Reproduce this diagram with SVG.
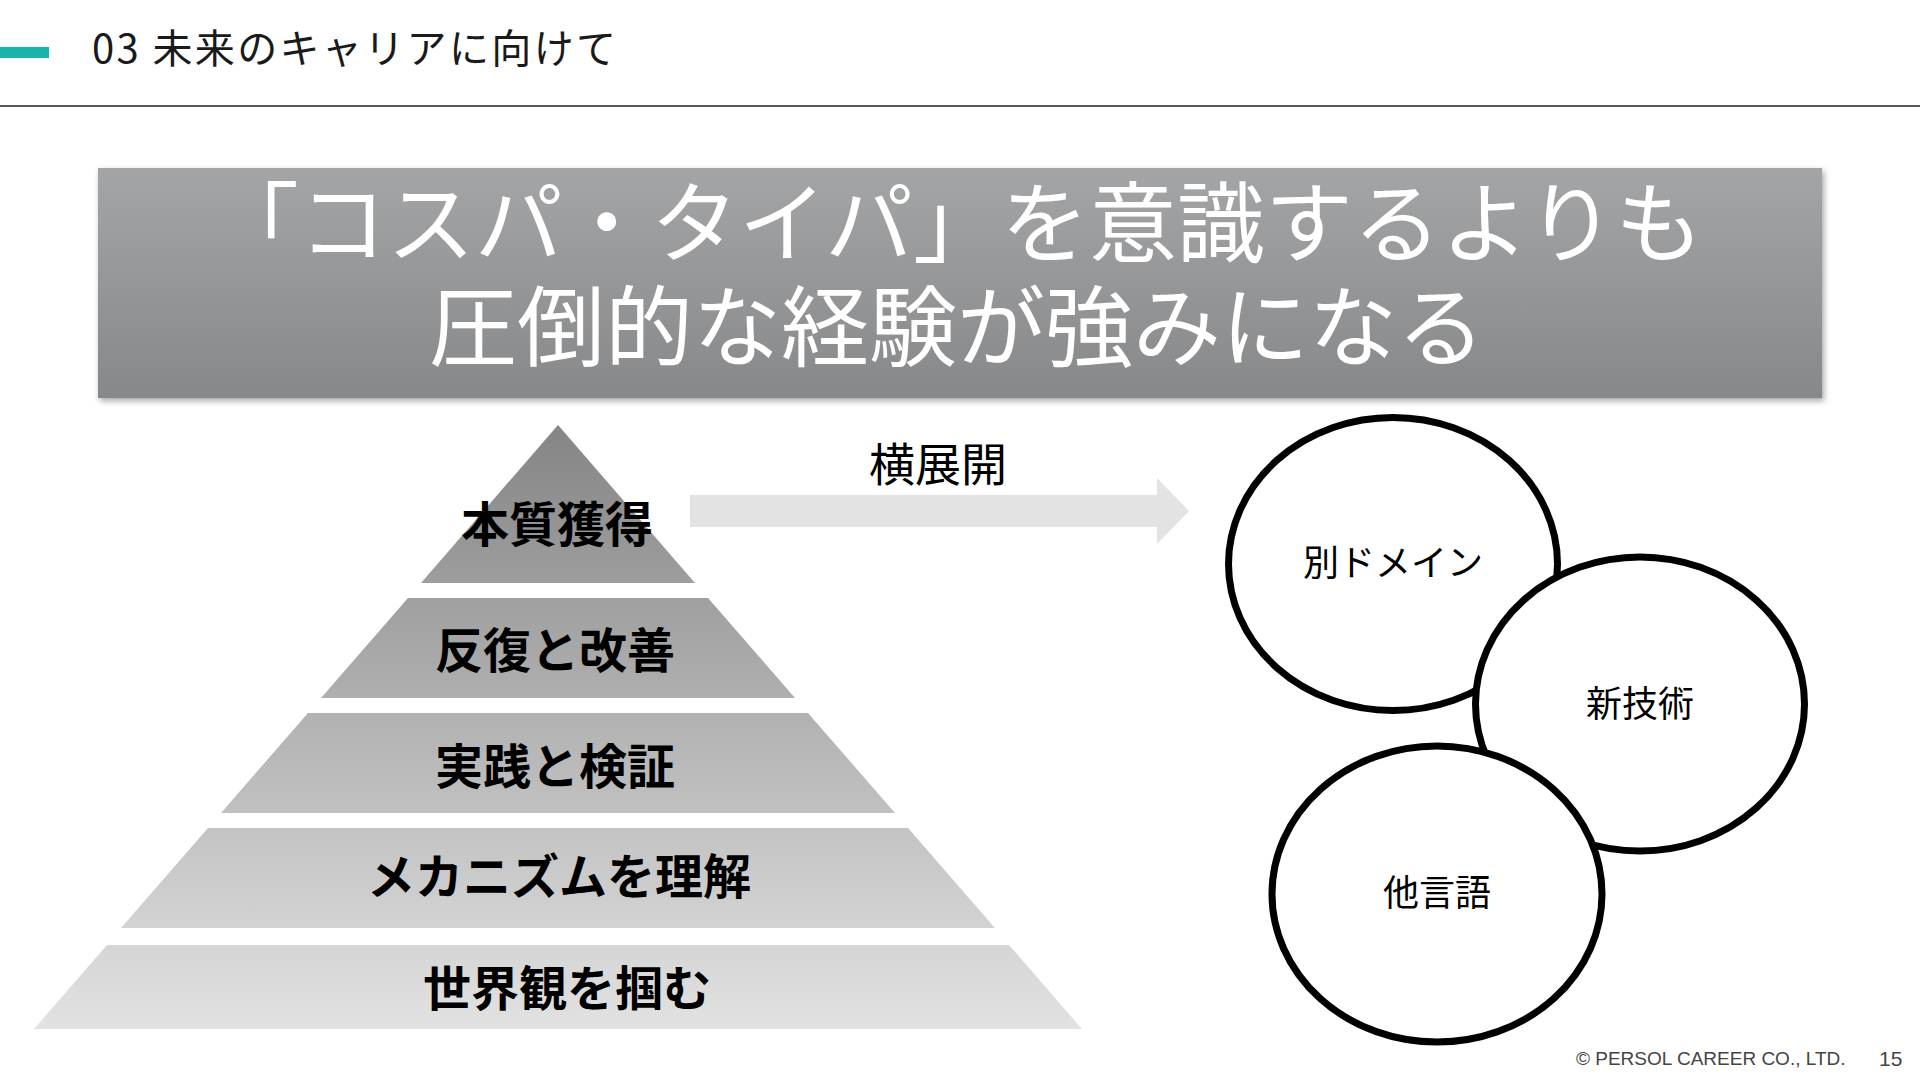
<svg xmlns="http://www.w3.org/2000/svg" width="1920" height="1080" viewBox="0 0 1920 1080">
  <style>
    .jp { font-family: "Noto Sans CJK JP", "Noto Sans", sans-serif; }
    .title { font-size: 40px; fill: #1a1a1a; }
    .banner-text { font-size: 88px; fill: #ffffff; text-anchor: middle; }
    .tier-label { font-size: 48px; font-weight: bold; fill: #000000; text-anchor: middle; }
    .bubble { fill: #ffffff; stroke: #000000; stroke-width: 7; }
    .bubble-label { font-size: 36px; fill: #000000; text-anchor: middle; }
    .footer { font-family: "Liberation Sans", Arial, sans-serif; fill: #444444; }
  </style>
  <defs>
    <linearGradient id="bannerGrad" x1="0" y1="0" x2="0" y2="1">
      <stop offset="0" stop-color="#a4a5a7"/>
      <stop offset="1" stop-color="#87888a"/>
    </linearGradient>
    <linearGradient id="pyrGrad" gradientUnits="userSpaceOnUse" x1="0" y1="425" x2="0" y2="1029">
      <stop offset="0" stop-color="#858585"/>
      <stop offset="1" stop-color="#e2e2e2"/>
    </linearGradient>
    <filter id="shadow" x="-5%" y="-10%" width="110%" height="125%">
      <feDropShadow dx="2" dy="3" stdDeviation="3" flood-color="#000000" flood-opacity="0.35"/>
    </filter>
  </defs>

  <rect width="1920" height="1080" fill="#ffffff"/>

  <!-- Header -->
  <g id="header">
    <rect x="0" y="47" width="49" height="11" fill="#17b3ac"/>
    <text class="jp title" x="92" y="63" textLength="524" lengthAdjust="spacing">03 未来のキャリアに向けて</text>
    <rect x="0" y="105" width="1920" height="2" fill="#595959"/>
  </g>

  <!-- Banner -->
  <g id="banner">
    <rect x="98" y="168" width="1724" height="230" fill="url(#bannerGrad)" filter="url(#shadow)"/>
    <text class="jp banner-text"><tspan x="957" y="255">「コスパ・タイパ」を意識するよりも</tspan><tspan x="957" y="359">圧倒的な経験が強みになる</tspan></text>
  </g>

  <!-- Pyramid -->
  <g id="tier-1">
    <polygon points="558,425 695,583 421,583" fill="url(#pyrGrad)"/>
    <text class="jp tier-label" x="557" y="542">本質獲得</text>
  </g>
  <g id="tier-2">
    <polygon points="408,598 708,598 795,698 321,698" fill="url(#pyrGrad)"/>
    <text class="jp tier-label" x="555" y="668">反復と改善</text>
  </g>
  <g id="tier-3">
    <polygon points="308,713 808,713 895,813 221,813" fill="url(#pyrGrad)"/>
    <text class="jp tier-label" x="555" y="784">実践と検証</text>
  </g>
  <g id="tier-4">
    <polygon points="208,828 908,828 995,928 121,928" fill="url(#pyrGrad)"/>
    <text class="jp tier-label" x="559" y="894">メカニズムを理解</text>
  </g>
  <g id="tier-5">
    <polygon points="107,945 1009,945 1082,1029 34,1029" fill="url(#pyrGrad)"/>
    <text class="jp tier-label" x="567" y="1006">世界観を掴む</text>
  </g>

  <!-- Connector: block arrow -->
  <g id="connectors">
    <polygon points="690,495 1157,495 1157,478 1189,511 1157,544 1157,527 690,527" fill="#e3e3e3"/>
    <text class="jp" x="938" y="481" font-size="46" fill="#000000" text-anchor="middle">横展開</text>
  </g>

  <!-- Bubbles -->
  <g id="bubble-domain">
    <ellipse class="bubble" cx="1393" cy="564" rx="164.5" ry="146.5"/>
    <text class="jp bubble-label" x="1393" y="576">別ドメイン</text>
  </g>
  <g id="bubble-tech">
    <ellipse class="bubble" cx="1640" cy="704" rx="164.5" ry="147"/>
    <text class="jp bubble-label" x="1640" y="717">新技術</text>
  </g>
  <g id="bubble-lang">
    <ellipse class="bubble" cx="1437" cy="894" rx="165" ry="148"/>
    <text class="jp bubble-label" x="1437" y="906">他言語</text>
  </g>

  <!-- Footer -->
  <g id="footer">
    <text class="footer" x="1576" y="1065" font-size="19">© PERSOL CAREER CO., LTD.</text>
    <text class="footer" x="1879" y="1066" font-size="21">15</text>
  </g>
</svg>
